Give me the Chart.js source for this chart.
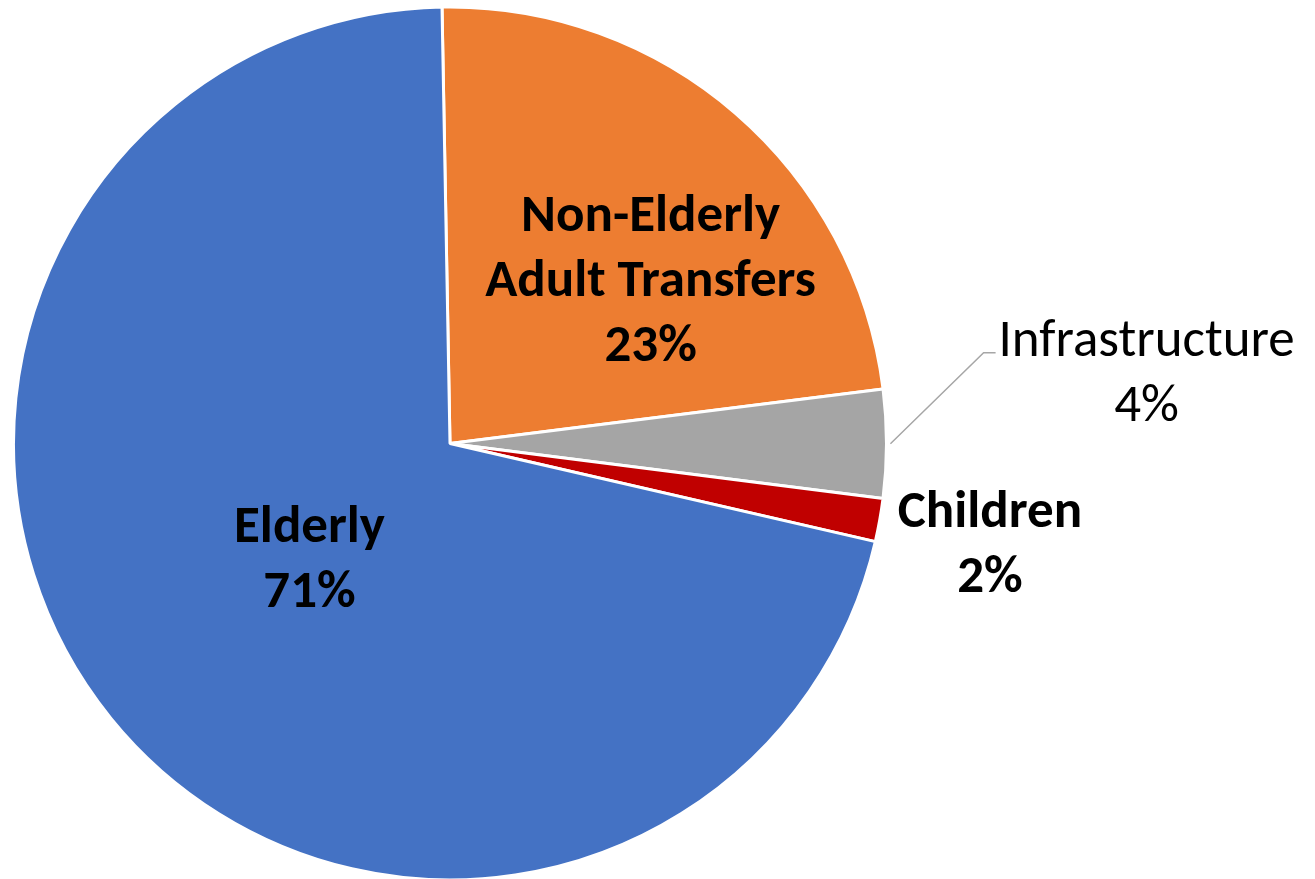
<!DOCTYPE html>
<html>
<head>
<meta charset="utf-8">
<script src="https://cdn.jsdelivr.net/npm/chart.js@4.4.1/dist/chart.umd.min.js"></script>
<style>
  html, body { margin: 0; padding: 0; background: #ffffff; overflow: hidden; }
  #wrap { position: relative; width: 1315px; height: 885px; }
</style>
</head>
<body>
<div id="wrap"><canvas id="c" width="1315" height="885"></canvas></div>
<script>
// ---- data ----
const categories = ["Non-Elderly\nAdult Transfers", "Infrastructure", "Children", "Elderly"];
const shares = [23.3, 4.0, 1.6, 71.1];
const percentLabels = ["23%", "4%", "2%", "71%"];
const sliceColors = ["#ED7D31", "#A5A5A5", "#C00000", "#4472C4"];

// label placement: polar (fraction of radius, degrees clockwise from 12 o'clock)
const labelPlacement = [
  { r: 0.593, a: 50.8, bold: true },
  { r: 1.604, a: 84.2, bold: false, leader: true },
  { r: 1.258, a: 100.5, bold: true },
  { r: 0.416, a: 230.7, bold: true }
];

const FONT = "Carlito, Lato, 'Open Sans', sans-serif";

const labelPlugin = {
  id: 'pieLabels',
  afterDatasetsDraw(chart) {
    const ctx = chart.ctx;
    const meta = chart.getDatasetMeta(0);
    meta.data.forEach((arc, i) => {
      const R = arc.outerRadius;
      const cx = arc.x, cy = arc.y;
      const p = labelPlacement[i];
      const ang = p.a * Math.PI / 180;
      const lx = cx + Math.sin(ang) * p.r * R;
      const ly = cy - Math.cos(ang) * p.r * R + 2.5;
      const lines = categories[i].split("\n").concat([percentLabels[i]]);
      const lineH = 65;
      ctx.save();
      ctx.fillStyle = "#000000";
      ctx.textAlign = "center";
      ctx.textBaseline = "middle";
      ctx.font = (p.bold ? "bold " : "") + "53px " + FONT;
      const y0 = ly - (lines.length - 1) * lineH / 2;
      lines.forEach((t, k) => ctx.fillText(t, lx, y0 + k * lineH));
      if (p.leader) {
        const mid = (arc.startAngle + arc.endAngle) / 2;
        const sx = cx + Math.cos(mid) * R * 1.009;
        const sy = cy + Math.sin(mid) * R * 1.009;
        const kAng = 80.35 * Math.PI / 180;
        const kx = cx + Math.sin(kAng) * 1.24 * R;
        const ky = cy - Math.cos(kAng) * 1.24 * R;
        ctx.strokeStyle = "#A6A6A6";
        ctx.lineWidth = 1.5;
        ctx.beginPath();
        ctx.moveTo(sx, sy);
        ctx.lineTo(kx, ky);
        ctx.lineTo(kx + 12, ky);
        ctx.stroke();
      }
      ctx.restore();
    });
  }
};

new Chart(document.getElementById('c'), {
  type: 'pie',
  data: {
    labels: categories,
    datasets: [{
      data: shares,
      backgroundColor: sliceColors,
      borderColor: "#ffffff",
      borderWidth: 3
    }]
  },
  options: {
    responsive: false,
    animation: false,
    rotation: -1.05,
    layout: { padding: { left: 12, right: 427, top: 5.5, bottom: 3.5 } },
    plugins: {
      legend: { display: false },
      tooltip: { enabled: false }
    }
  },
  plugins: [labelPlugin]
});
</script>
</body>
</html>
